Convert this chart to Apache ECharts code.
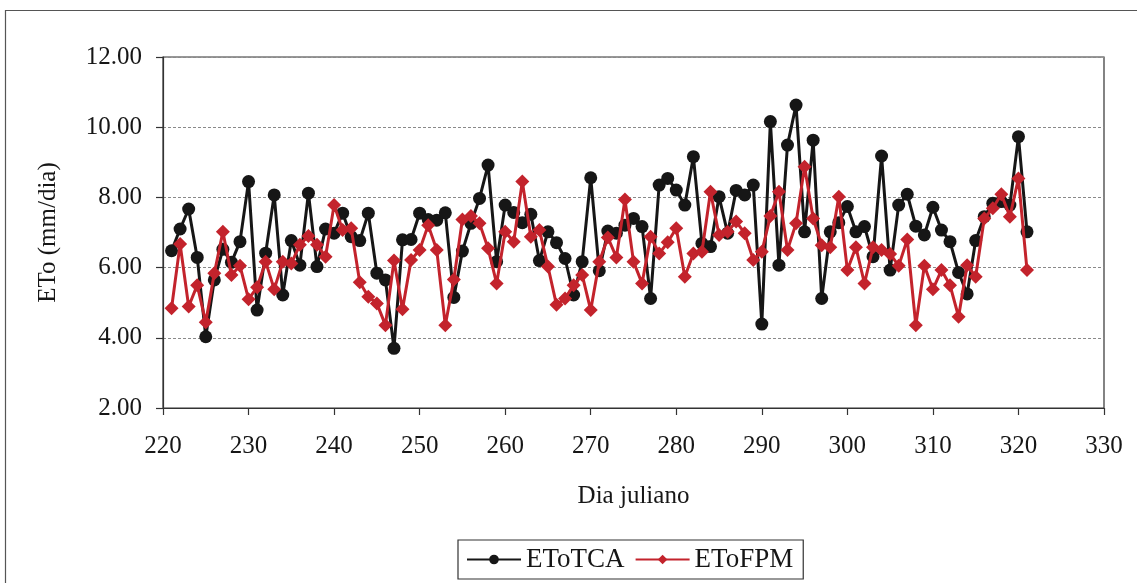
<!DOCTYPE html>
<html>
<head>
<meta charset="utf-8">
<script src="https://cdn.jsdelivr.net/npm/echarts@6/dist/echarts.min.js"></script>
<style>
  html, body { margin: 0; padding: 0; background: #fff; }
  #chart { width: 1137px; height: 583px; }
</style>
</head>
<body>
<div id="chart"></div>
<script>
// Julian days of the observation period
const firstDay = 221;
const lastDay = 321;

// Daily reference evapotranspiration (mm/dia), one value per day
const etoTCA = [
  6.48, 7.10, 7.67, 6.29, 4.03, 5.65, 6.52, 6.15, 6.74, 8.45,
  4.79, 6.41, 8.07, 5.22, 6.77, 6.07, 8.12, 6.03, 7.10, 6.98,
  7.55, 6.88, 6.77, 7.55, 5.84, 5.65, 3.70, 6.79, 6.80, 7.55,
  7.37, 7.35, 7.56, 5.15, 6.47, 7.26, 7.97, 8.92, 6.17, 7.78,
  7.57, 7.28, 7.52, 6.20, 7.02, 6.71, 6.26, 5.22, 6.17, 8.56,
  5.91, 7.04, 6.98, 7.21, 7.40, 7.17, 5.12, 8.35, 8.54, 8.21,
  7.78, 9.16, 6.69, 6.60, 8.02, 6.98, 8.20, 8.07, 8.35, 4.39,
  10.16, 6.07, 9.49, 10.63, 7.02, 9.63, 5.12, 7.02, 7.28, 7.74,
  7.02, 7.17, 6.31, 9.18, 5.93, 7.78, 8.09, 7.18, 6.93, 7.72,
  7.07, 6.74, 5.86, 5.25, 6.77, 7.45, 7.83, 7.88, 7.78, 9.73,
  7.02
];

const etoFPM = [
  4.84, 6.67, 4.89, 5.50, 4.44, 5.84, 7.02, 5.79, 6.05, 5.10,
  5.44, 6.17, 5.38, 6.17, 6.12, 6.65, 6.90, 6.65, 6.31, 7.78,
  7.07, 7.12, 5.58, 5.17, 4.98, 4.36, 6.20, 4.81, 6.22, 6.50,
  7.21, 6.50, 4.36, 5.66, 7.37, 7.47, 7.26, 6.55, 5.55, 7.02,
  6.74, 8.45, 6.88, 7.07, 6.03, 4.94, 5.12, 5.50, 5.79, 4.79,
  6.17, 6.86, 6.29, 7.94, 6.17, 5.55, 6.88, 6.40, 6.72, 7.12,
  5.74, 6.40, 6.45, 8.16, 6.93, 7.02, 7.31, 6.98, 6.22, 6.45,
  7.47, 8.16, 6.50, 7.26, 8.87, 7.40, 6.64, 6.58, 8.02, 5.93,
  6.58, 5.55, 6.58, 6.50, 6.39, 6.05, 6.80, 4.36, 6.05, 5.38,
  5.93, 5.50, 4.60, 6.07, 5.74, 7.40, 7.69, 8.09, 7.45, 8.54,
  5.93
];

// Axis ranges and tick steps
const xMin = 220, xMax = 330, xStep = 10;
const yMin = 2, yMax = 12, yStep = 2;

const days = [];
for (let d = firstDay; d <= lastDay; d++) days.push(d);
const pairs = vals => days.map((d, i) => [d, vals[i]]);

const serif = '"Liberation Serif", "DejaVu Serif", serif';
const ink = '#161616';
const red = '#c3232c';

const chart = echarts.init(document.getElementById('chart'), null, { renderer: 'canvas' });
chart.setOption({
  animation: false,
  backgroundColor: '#fff',
  graphic: [{
    type: 'rect',
    shape: { x: 5.5, y: 10.5, width: 1160, height: 620 },
    style: { fill: 'none', stroke: '#555', lineWidth: 1.2 },
    silent: true
  }],
  grid: {
    left: 163, top: 57, width: 941, height: 351,
    show: true, borderColor: '#333', borderWidth: 1.2, backgroundColor: 'transparent'
  },
  legend: {
    left: 458, top: 540,
    orient: 'horizontal',
    borderColor: '#333', borderWidth: 1.2,
    padding: [6, 10, 6, 8],
    itemGap: 10,
    itemWidth: 54, itemHeight: 12,
    textStyle: { fontFamily: serif, fontSize: 27, color: ink },
    data: ['EToTCA', 'EToFPM']
  },
  xAxis: {
    type: 'value',
    min: xMin, max: xMax, interval: xStep,
    name: 'Dia juliano',
    nameLocation: 'middle',
    nameGap: 76,
    nameTextStyle: { fontFamily: serif, fontSize: 25, color: ink },
    axisLine: { show: true, onZero: false, lineStyle: { color: '#333', width: 1.2 } },
    axisTick: { show: true, length: 7, inside: false, lineStyle: { color: '#333', width: 1.2 } },
    axisLabel: { fontFamily: serif, fontSize: 25, color: ink, margin: 26 },
    splitLine: { show: false }
  },
  yAxis: {
    type: 'value',
    min: yMin, max: yMax, interval: yStep,
    name: 'ETo (mm/dia)',
    nameLocation: 'middle',
    nameGap: 102,
    nameRotate: 90,
    nameTextStyle: { fontFamily: serif, fontSize: 25, color: ink },
    axisLine: { show: true, lineStyle: { color: '#333', width: 1.2 } },
    axisTick: { show: true, length: 7, inside: false, lineStyle: { color: '#333', width: 1.2 } },
    axisLabel: {
      fontFamily: serif, fontSize: 25, color: ink, margin: 21,
      formatter: v => v.toFixed(2)
    },
    splitLine: { show: true, lineStyle: { color: '#8a8a8a', width: 1, type: [3, 2] } }
  },
  series: [
    {
      name: 'EToTCA',
      type: 'line',
      data: pairs(etoTCA),
      symbol: 'circle',
      symbolSize: 13,
      showAllSymbol: true,
      lineStyle: { color: ink, width: 3 },
      itemStyle: { color: ink },
      z: 2
    },
    {
      name: 'EToFPM',
      type: 'line',
      data: pairs(etoFPM),
      symbol: 'diamond',
      symbolSize: 14,
      showAllSymbol: true,
      lineStyle: { color: red, width: 3 },
      itemStyle: { color: red },
      z: 3
    }
  ]
});
</script>
</body>
</html>
